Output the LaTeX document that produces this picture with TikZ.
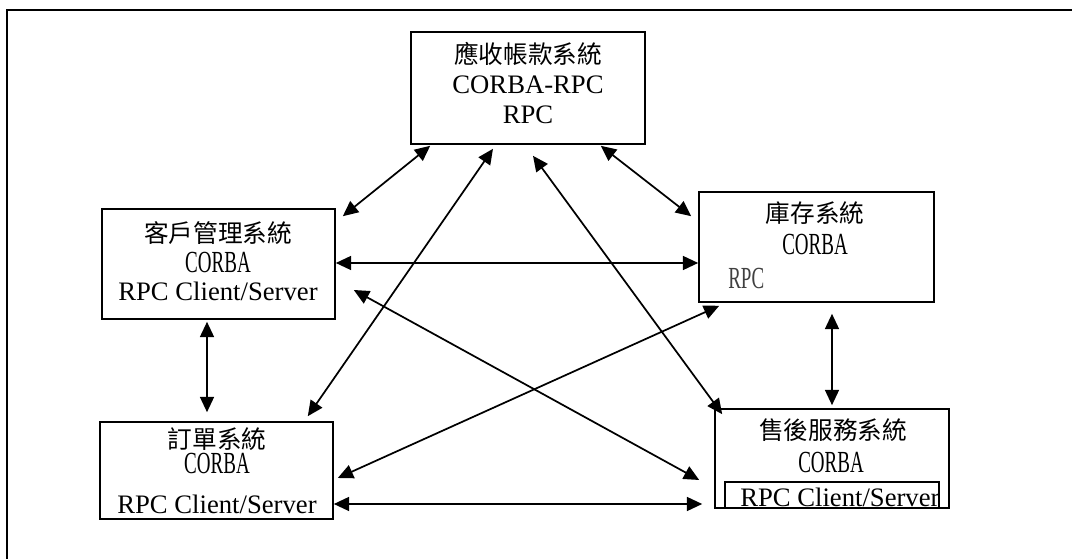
\documentclass[tikz,border=0pt]{standalone}
\usepackage{fontspec}
\setmainfont{Liberation Serif}
\newfontfamily\cjk{Noto Sans CJK TC}
\newfontfamily\narrowserif[FakeStretch=0.62]{Liberation Serif}
\usetikzlibrary{arrows.meta,calc}

\begin{document}
\begin{tikzpicture}[x=0.75pt,y=-0.75pt,
  box/.style={draw,line width=1.2pt,inner sep=0pt},
  tip/.tip={Triangle[length=11.5pt,width=10.5pt]},
  link/.style={line width=1.3pt,tip-tip},
  zh/.style={font=\cjk\fontsize{18.5}{22}\selectfont,inner sep=0pt},
  lat/.style={font=\fontsize{20}{24}\selectfont,inner sep=0pt,anchor=base},
  nar/.style={font=\narrowserif\fontsize{23}{26}\selectfont,inner sep=0pt,anchor=base},
]
\useasboundingbox (0,0) rectangle (1072,559);

% page frame (top and left edges)
\draw[line width=1.4pt] (7,559) -- (7,10) -- (1072,10);

% system boxes
\node[box,minimum width=175.5pt,minimum height=84pt]    (acc)  at (528,88)    {};
\node[box,minimum width=174.75pt,minimum height=82.5pt] (cust) at (218.5,264) {};
\node[box,minimum width=176.25pt,minimum height=82.5pt] (inv)  at (816.5,247) {};
\node[box,minimum width=174.75pt,minimum height=72.75pt](ord)  at (216.5,470.5){};
\node[box,minimum width=175.5pt,minimum height=74.25pt] (svc)  at (832,458.5) {};

% accounts receivable
\node[zh]  (accT) at (528,54)  {應收帳款系統};
\node[lat] (accA) at (528,94)  {CORBA-RPC};
\node[lat] (accB) at (528,124) {RPC};

% customer management
\node[zh]  (custT) at (218,233) {客戶管理系統};
\node[nar] (custA) at (218,273) {CORBA};
\node[lat] (custB) at (218,301) {RPC Client/Server};

% inventory
\node[zh]  (invT) at (815,213) {庫存系統};
\node[nar] (invA) at (815,255) {CORBA};
\node[nar,text=black!75,anchor=base west] (invB) at (728,289) {RPC};

% orders
\node[zh]  (ordT) at (217,439) {訂單系統};
\node[nar] (ordA) at (217,474) {CORBA};
\node[lat] (ordB) at (217,514) {RPC Client/Server};

% after-sales service
\node[zh]  (svcT) at (833,430) {售後服務系統};
\node[nar] (svcA) at (831,473) {CORBA};
\draw[line width=1.2pt] (725,508) -- (725,482) -- (939,482) -- (939,508);
\begin{scope}
  \clip (725,482) rectangle (939,508);
  \node[lat,anchor=base west] (svcB) at (740,507) {RPC Client/Server};
\end{scope}

% links between systems
\draw[link] ($(acc.south west)+(20,1)$)  -- ($(cust.north east)+(7,8)$);
\draw[link] ($(acc.south east)+(-45,1)$) -- ($(inv.north west)+(-7,25)$);
\draw[link] ($(cust.east)+(0,-1)$)       -- ($(cust.east-|inv.west)+(0,-1)$);
\draw[link] ($(acc.south)+(-35,4)$)      -- ($(ord.north east)+(-26,-5)$);
\draw[link] ($(acc.south)+(5,11)$)       -- ($(svc.north west)+(8,6)$);
\draw[link] ($(cust.east)+(18,26)$)      -- ($(svc.west)+(-15,21.5)$);
\draw[link] ($(inv.south west)+(21,3)$)  -- ($(ord.east)+(4,7.5)$);
\draw[link] ($(ord.east)+(0,33.5)$)      -- ($(svc.west)+(-12,45.5)$);
\draw[link] ($(cust.south)+(-11.5,2)$)   -- ($(ord.north)+(-9.5,-9)$);
\draw[link] ($(inv.south)+(15.5,11)$)    -- ($(svc.north)+(0,-3)$);
\end{tikzpicture}
\end{document}
